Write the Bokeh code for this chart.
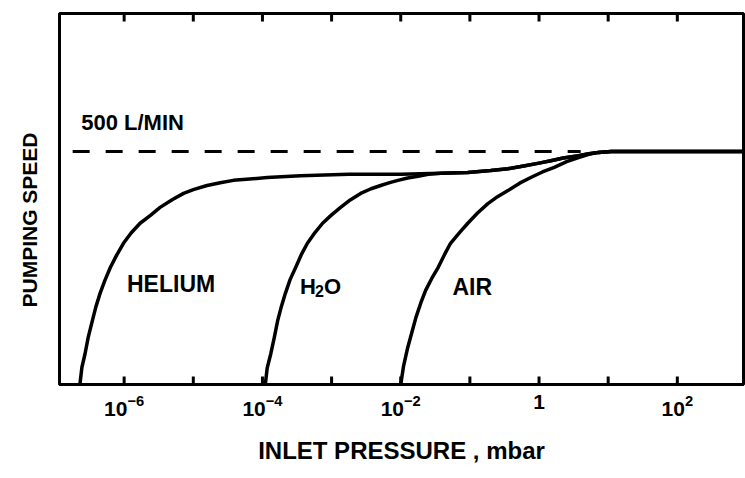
import numpy as np
from bokeh.plotting import figure
from bokeh.models import Range1d, FixedTicker, LogTickFormatter, Title
from bokeh.core.properties import value
from bokeh.embed import file_html
from bokeh.resources import INLINE

FONT = "Liberation Sans"

# ---- data ----
helium_p = [2.29e-7, 2.45e-7, 2.72e-7, 3.02e-7, 3.47e-7, 3.89e-7, 4.47e-7, 5.25e-7, 6.31e-7,
            7.76e-7, 9.77e-7, 1.26e-6, 1.70e-6, 2.40e-6, 3.31e-6, 5.01e-6, 7.24e-6, 1.0e-5,
            1.58e-5, 2.45e-5, 3.80e-5, 1.17e-4, 3.55e-4, 1.78e-3, 1.0e-2, 3.8e-2, 9.3e-2,
            0.20, 0.355, 0.60, 1.0, 1.48, 2.24, 3.72, 5.25, 7.24, 11, 1000]
helium_s = [0, 37, 66, 101, 137, 166, 195, 223, 251,
            277, 303, 325, 346, 363, 380, 397, 410, 418,
            427, 433, 438, 444, 448, 451, 451, 453, 455,
            459, 463, 469, 475, 480, 486, 491, 495, 498, 500, 500]

h2o_p = [1.10e-4, 1.17e-4, 1.32e-4, 1.48e-4, 1.66e-4, 1.86e-4, 2.14e-4, 2.51e-4, 3.02e-4,
         3.63e-4, 4.47e-4, 5.75e-4, 7.41e-4, 1.0e-3, 1.35e-3, 1.86e-3, 2.63e-3, 3.72e-3,
         5.13e-3, 6.92e-3, 9.12e-3, 1.26e-2, 1.78e-2, 2.5e-2, 3.8e-2, 9.3e-2,
         0.20, 0.355, 0.60, 1.0, 1.48, 2.24, 3.72, 5.25, 7.24, 11, 1000]
h2o_s = [0, 35, 66, 100, 137, 165, 195, 225, 251,
         278, 303, 326, 346, 364, 380, 396, 410, 420,
         427, 433, 438, 443, 447, 451, 453, 455,
         459, 463, 469, 475, 480, 486, 491, 495, 498, 500, 500]

air_p = [1.0e-2, 1.10e-2, 1.26e-2, 1.45e-2, 1.66e-2, 1.95e-2, 2.29e-2, 2.82e-2, 3.47e-2,
         4.27e-2, 5.25e-2, 7.08e-2, 9.33e-2, 0.129, 0.182, 0.251, 0.355, 0.525,
         0.759, 1.12, 1.66, 2.51, 3.72, 5.25, 7.24, 11, 1000]
air_s = [0, 40, 79, 112, 144, 175, 202, 228, 251,
         278, 303, 326, 346, 368, 388, 403, 416, 432,
         444, 456, 466, 478, 487, 494, 498, 500, 500]

max_speed_p = [1.8e-7, 4.0]
max_speed_s = [500, 500]
max_speed_text = "500 L/MIN"

major_ticks = [1e-6, 1e-4, 1e-2, 1, 1e2]
minor_ticks = [1e-5, 1e-3, 1e-1, 10]

gas_text = ["HELIUM", "AIR"]
gas_text_p = [1.1e-6, 5.6e-2]
gas_text_s = [215, 210]
h2o_text_p = [3.5e-4]
h2o_text_s = [210]

x_title = "INLET PRESSURE , mbar"
y_title = "PUMPING SPEED"

Y_MIN, Y_MAX = 0, 796
TICK_LEN = 17  # inward tick length, in speed units (~8 px)

# ---- figure ----
p = figure(width=745, height=478, x_axis_type="log",
           x_range=Range1d(10 ** -6.935, 10 ** 2.957), y_range=Range1d(Y_MIN, Y_MAX),
           output_backend="svg", toolbar_location=None,
           min_border_left=59, min_border_right=2, min_border_top=13, min_border_bottom=94)
p.grid.visible = False
p.outline_line_color = "black"
p.outline_line_width = 3
p.background_fill_color = "white"
p.border_fill_color = "white"

xa = p.xaxis[0]
xa.ticker = FixedTicker(ticks=major_ticks, minor_ticks=minor_ticks)
xa.formatter = LogTickFormatter(min_exponent=1)
xa.axis_line_color = "black"
xa.axis_line_width = 3
xa.major_tick_in = 0
xa.major_tick_out = 0
xa.minor_tick_in = 0
xa.minor_tick_out = 0
xa.major_label_text_font = FONT
xa.major_label_text_font_style = "bold"
xa.major_label_text_font_size = "21px"
xa.major_label_text_color = "black"
xa.major_label_standoff = 10
xa.axis_label = x_title
xa.axis_label_text_font = FONT
xa.axis_label_text_font_style = "bold"
xa.axis_label_text_font_size = "24px"
xa.axis_label_text_color = "black"
xa.axis_label_standoff = 18

p.yaxis.visible = False

# y title, shifted down like the reference
p.add_layout(Title(text=y_title, align="left", offset=77, vertical_align="top", standoff=34,
                   text_font=FONT, text_font_style="bold", text_font_size="21px",
                   text_color="black"), "left")

# ---- inward tick marks (bottom and top edges) ----
all_ticks = major_ticks + minor_ticks
for t in all_ticks:
    p.line([t, t], [Y_MIN, Y_MIN + TICK_LEN], line_width=3, line_color="black")
    p.line([t, t], [Y_MAX - TICK_LEN, Y_MAX], line_width=3, line_color="black")

# ---- curves ----
p.line(max_speed_p, max_speed_s, line_color="black", line_width=3, line_dash="17 16")
for xs, ys in ((helium_p, helium_s), (h2o_p, h2o_s), (air_p, air_s)):
    p.line(xs, ys, line_color="black", line_width=3.5, line_join="round")

# ---- texts ----
common = dict(text_font=value(FONT), text_font_style="bold", text_color="black",
              text_baseline="middle", text_align="left")
p.text(x=[max_speed_p[0] * 1.33], y=[562], text=[max_speed_text], text_font_size="22px", **common)
p.text(x=gas_text_p, y=gas_text_s, text=gas_text, text_font_size="23px", **common)
p.text(x=h2o_text_p, y=h2o_text_s, text=["H"], text_font_size="22px", **common)
p.text(x=h2o_text_p, y=h2o_text_s, text=["2"], text_font_size="16px",
       x_offset=15, y_offset=4, **common)
p.text(x=h2o_text_p, y=h2o_text_s, text=["O"], text_font_size="22px", x_offset=24, **common)

open("out.html", "w").write(file_html(p, INLINE))
